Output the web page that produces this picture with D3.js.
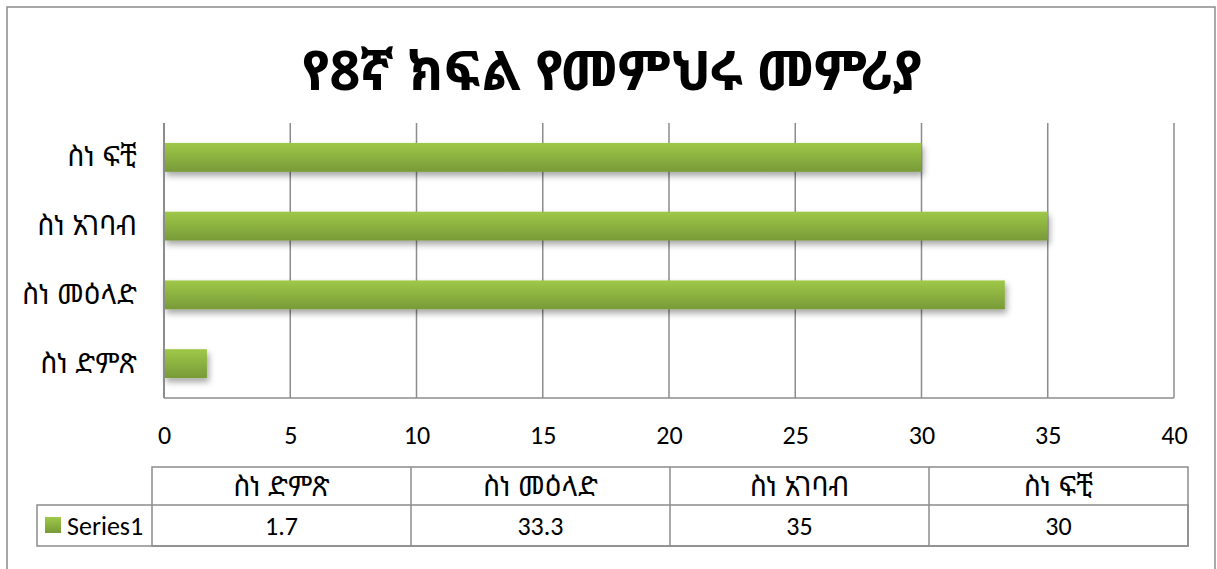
<!DOCTYPE html>
<html>
<head>
<meta charset="utf-8">
<script src="https://cdn.jsdelivr.net/npm/d3@7"></script>
<style>
  html, body { margin: 0; padding: 0; background: #fff; }
  svg { display: block; }
</style>
</head>
<body>
<svg id="chart" width="1217" height="569"></svg>
<script>
const title = "የ8ኛ ክፍል የመምህሩ መምሪያ";
const categories = ["ስነ ድምጽ", "ስነ መዕላድ", "ስነ አገባብ", "ስነ ፍቺ"];
const values = [1.7, 33.3, 35, 30];
const seriesName = "Series1";
const xTicks = [0, 5, 10, 15, 20, 25, 30, 35, 40];
const valueLabels = ["1.7", "33.3", "35", "30"];

const svg = d3.select("#chart");
const grey = "#8c8c8c";
const fontLatin = "Carlito, Lato, 'Open Sans', 'Noto Sans', sans-serif";
const fontEth = "'Noto Sans Ethiopic', 'Abyssinica SIL', 'DejaVu Sans', sans-serif";

const defs = svg.append("defs");
const grad = defs.append("linearGradient").attr("id", "barGrad")
  .attr("x1", 0).attr("y1", 0).attr("x2", 0).attr("y2", 1);
grad.append("stop").attr("offset", "0%").attr("stop-color", "#9fc848");
grad.append("stop").attr("offset", "100%").attr("stop-color", "#789a38");
const f = defs.append("filter").attr("id", "shadow")
  .attr("x", "-10%").attr("y", "-30%").attr("width", "130%").attr("height", "190%");
f.append("feDropShadow").attr("dx", 2).attr("dy", 4).attr("stdDeviation", 3)
  .attr("flood-color", "#000").attr("flood-opacity", 0.35);

// outer border
svg.append("rect").attr("x", 7).attr("y", 7).attr("width", 1208).attr("height", 580)
  .attr("fill", "#fff").attr("stroke", grey).attr("stroke-width", 1.5);

// title
svg.append("text").attr("x", 612).attr("y", 90)
  .attr("text-anchor", "middle")
  .attr("font-family", fontEth).attr("font-weight", "bold")
  .attr("font-size", 54).attr("fill", "#000").text(title);

const plot = { left: 164, right: 1174, top: 123, bottom: 398 };
const x = d3.scaleLinear().domain([0, 40]).range([plot.left, plot.right]);
const y = d3.scaleBand().domain(categories.slice().reverse())
  .range([plot.top, plot.bottom]).paddingInner(0.58).paddingOuter(0.29);

// gridlines
svg.append("g").selectAll("line").data(xTicks.slice(1)).join("line")
  .attr("x1", d => x(d)).attr("x2", d => x(d))
  .attr("y1", plot.top).attr("y2", plot.bottom)
  .attr("stroke", grey).attr("stroke-width", 1.5);

// bars
svg.append("g").selectAll("rect").data(categories).join("rect")
  .attr("x", x(0))
  .attr("y", d => y(d))
  .attr("width", (d, i) => x(values[i]) - x(0))
  .attr("height", y.bandwidth())
  .attr("fill", "url(#barGrad)")
  .attr("filter", "url(#shadow)");

// axes lines
svg.append("line").attr("x1", plot.left).attr("x2", plot.left)
  .attr("y1", plot.top).attr("y2", plot.bottom).attr("stroke", grey).attr("stroke-width", 2);
svg.append("line").attr("x1", plot.left).attr("x2", plot.right)
  .attr("y1", plot.bottom).attr("y2", plot.bottom).attr("stroke", grey).attr("stroke-width", 1.5);

// x tick labels
const xAxis = d3.axisBottom(x).tickValues(xTicks).tickSize(0).tickPadding(0);
const gx = svg.append("g").attr("transform", `translate(0,${plot.bottom + 37})`).call(xAxis);
gx.select(".domain").remove();
gx.selectAll("text").attr("font-family", fontLatin).attr("font-size", 26)
  .attr("fill", "#000").attr("dy", "0.35em");

// y category labels
const yAxis = d3.axisLeft(y).tickSize(0).tickPadding(0);
const gy = svg.append("g").attr("transform", `translate(${plot.left - 27},0)`).call(yAxis);
gy.select(".domain").remove();
gy.selectAll("text").attr("font-family", fontEth).attr("font-size", 28).attr("fill", "#000");

// data table
const tbl = { left: 152, right: 1188, top: 467, mid: 505, bottom: 546, legendLeft: 37 };
const col = d3.scaleBand().domain(categories).range([tbl.left, tbl.right]);
const tg = svg.append("g").attr("fill", "none").attr("stroke", grey).attr("stroke-width", 1.5);
tg.append("rect").attr("x", tbl.left).attr("y", tbl.top)
  .attr("width", tbl.right - tbl.left).attr("height", tbl.bottom - tbl.top);
tg.append("rect").attr("x", tbl.legendLeft).attr("y", tbl.mid)
  .attr("width", tbl.right - tbl.legendLeft).attr("height", tbl.bottom - tbl.mid);
tg.selectAll("line.c").data(categories.slice(1)).join("line")
  .attr("x1", d => col(d)).attr("x2", d => col(d))
  .attr("y1", tbl.top).attr("y2", tbl.bottom);

svg.append("g").selectAll("text").data(categories).join("text")
  .attr("x", d => col(d) + col.bandwidth() / 2).attr("y", (tbl.top + tbl.mid) / 2)
  .attr("dy", "0.35em").attr("text-anchor", "middle")
  .attr("font-family", fontEth).attr("font-size", 28).attr("fill", "#000")
  .text(d => d);
svg.append("g").selectAll("text").data(valueLabels).join("text")
  .attr("x", (d, i) => col(categories[i]) + col.bandwidth() / 2).attr("y", (tbl.mid + tbl.bottom) / 2)
  .attr("dy", "0.35em").attr("text-anchor", "middle")
  .attr("font-family", fontLatin).attr("font-size", 26).attr("fill", "#000")
  .text(d => d);

// legend key
svg.append("rect").attr("x", 45).attr("y", 517).attr("width", 16).attr("height", 16)
  .attr("fill", "url(#barGrad)");
svg.append("text").attr("x", 67).attr("y", (tbl.mid + tbl.bottom) / 2).attr("dy", "0.35em")
  .attr("font-family", fontLatin).attr("font-size", 26).attr("fill", "#000").text(seriesName);
</script>
</body>
</html>
